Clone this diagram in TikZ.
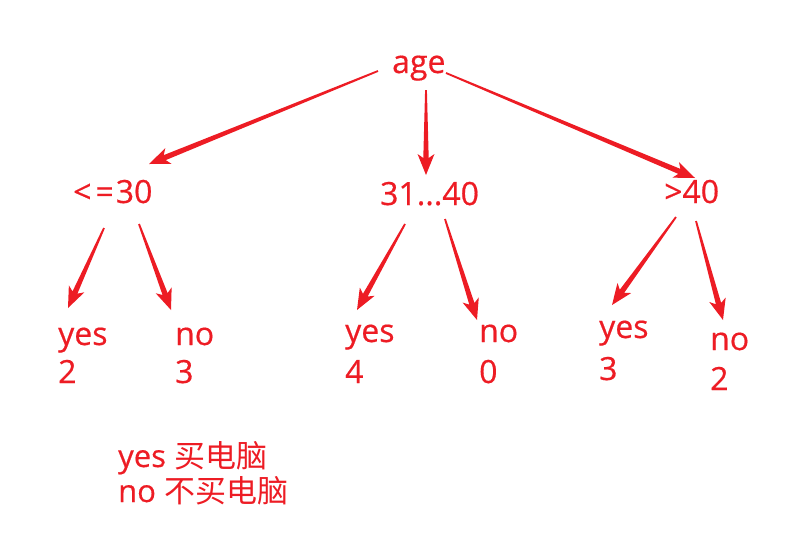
\documentclass[tikz,border=0pt]{standalone}
\usepackage{fontspec}
\setmainfont{Open Sans}[FakeBold=0.5]
\newfontfamily\cjk{Noto Sans CJK SC}
\usetikzlibrary{calc}
\definecolor{tred}{RGB}{237,28,36}
\tikzset{
  lbl/.style={anchor=base west, inner sep=0pt, text=tred, font=\fontsize{32}{38}\selectfont},
  leg/.style={anchor=base west, inner sep=0pt, text=tred, font=\fontsize{31}{36}\selectfont},
}
\newcommand\tarrow[2]{%
  \fill[tred] ($(#1)!0.9pt!90:(#2)$) -- ($(#2)!17pt!(#1)!2.7pt!-90:(#1)$) -- ($(#2)!21pt!(#1)!8.5pt!-90:(#1)$) -- (#2)
    -- ($(#2)!21pt!(#1)!8.5pt!90:(#1)$) -- ($(#2)!17pt!(#1)!2.7pt!90:(#1)$) -- ($(#1)!0.9pt!-90:(#2)$) -- cycle;}
\begin{document}
\begin{tikzpicture}[x=1pt,y=1pt]
\useasboundingbox (0,0) rectangle (804,-546);
\node[lbl] (age) at (392,-73) {age};
\node[lbl] (le30) at (73,-203) {<\hspace{4pt}=\hspace{2pt}30};
\node[lbl] (mid) at (380,-205) {31...40};
\node[lbl] (gt40) at (664,-203) {>40};
\node[lbl] (yes1) at (58,-345) {yes};
\node[lbl] (yes1n) at (58,-383) {2};
\node[lbl] (no1) at (175,-345) {no};
\node[lbl] (no1n) at (175,-383) {3};
\node[lbl] (yes2) at (345,-342) {yes};
\node[lbl] (yes2n) at (345,-383) {4};
\node[lbl] (no2) at (479,-342) {no};
\node[lbl] (no2n) at (479,-383) {0};
\node[lbl] (yes3) at (599,-338) {yes};
\node[lbl] (yes3n) at (599,-380) {3};
\node[lbl] (no3) at (710,-350) {no};
\node[lbl] (no3n) at (710,-390) {2};
\node[leg] (leg1) at (118,-467) {yes {\cjk 买电脑}};
\node[leg] (leg2) at (118,-502) {no {\cjk 不买电脑}};
% arrow ends
\coordinate (a1s) at ([shift={(-14,2)}]age.base west);
\coordinate (a2s) at ([shift={(34,-17)}]age.base west);
\coordinate (a3s) at ([shift={(54,0)}]age.base west);
\coordinate (a1e) at ([shift={(76,39)}]le30.base west);
\coordinate (a2e) at ([shift={(46,30)}]mid.base west);
\coordinate (a3e) at ([shift={(31,25)}]gt40.base west);
\coordinate (b1s) at ([shift={(31,-25)}]le30.base west);
\coordinate (b2s) at ([shift={(66,-21)}]le30.base west);
\coordinate (b3s) at ([shift={(25,-19)}]mid.base west);
\coordinate (b4s) at ([shift={(65,-14)}]mid.base west);
\coordinate (b5s) at ([shift={(12,-14)}]gt40.base west);
\coordinate (b6s) at ([shift={(32,-18)}]gt40.base west);
\coordinate (b1e) at ([shift={(10,37)}]yes1.base west);
\coordinate (b2e) at ([shift={(-4,35)}]no1.base west);
\coordinate (b3e) at ([shift={(12,32)}]yes2.base west);
\coordinate (b4e) at ([shift={(-2,22)}]no2.base west);
\coordinate (b5e) at ([shift={(13,33)}]yes3.base west);
\coordinate (b6e) at ([shift={(13,30)}]no3.base west);
\tarrow{a1s}{a1e}
\tarrow{a2s}{a2e}
\tarrow{a3s}{a3e}
\tarrow{b1s}{b1e}
\tarrow{b2s}{b2e}
\tarrow{b3s}{b3e}
\tarrow{b4s}{b4e}
\tarrow{b5s}{b5e}
\tarrow{b6s}{b6e}
\end{tikzpicture}
\end{document}
